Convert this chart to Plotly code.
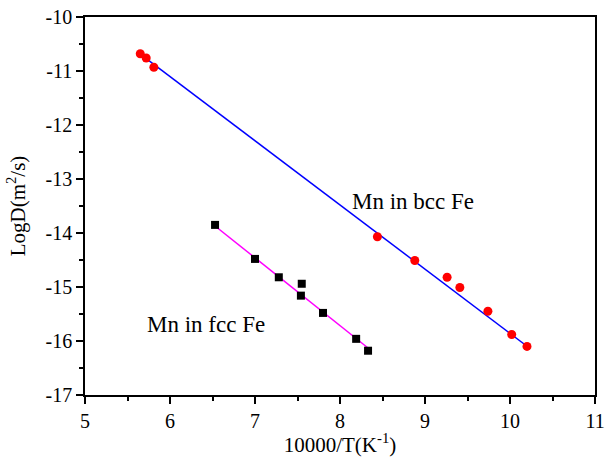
import plotly.graph_objects as go

# bcc Fe data (red circles)
bcc_x = [5.65, 5.72, 5.81, 8.44, 8.88, 9.26, 9.41, 9.74, 10.02, 10.20]
bcc_y = [-10.68, -10.76, -10.93, -14.07, -14.51, -14.82, -15.01, -15.45, -15.88, -16.10]
bcc_fit_x = [5.67, 10.22]
bcc_fit_y = [-10.71, -16.12]

# fcc Fe data (black squares)
fcc_x = [6.53, 7.00, 7.28, 7.55, 7.54, 7.80, 8.19, 8.33]
fcc_y = [-13.85, -14.48, -14.82, -14.94, -15.16, -15.48, -15.96, -16.18]
fcc_fit_x = [6.53, 8.33]
fcc_fit_y = [-13.87, -16.13]

x_ticks = [5, 6, 7, 8, 9, 10, 11]
y_ticks = [-10, -11, -12, -13, -14, -15, -16, -17]

FONT = "Times New Roman, Liberation Serif, serif"

fig = go.Figure()
fig.add_trace(go.Scatter(x=bcc_fit_x, y=bcc_fit_y, mode="lines",
                         line=dict(color="#0000FF", width=1.5), showlegend=False))
fig.add_trace(go.Scatter(x=fcc_fit_x, y=fcc_fit_y, mode="lines",
                         line=dict(color="#FF00FF", width=1.5), showlegend=False))
fig.add_trace(go.Scatter(x=bcc_x, y=bcc_y, mode="markers",
                         marker=dict(symbol="circle", size=9, color="#FF0000"),
                         showlegend=False))
fig.add_trace(go.Scatter(x=fcc_x, y=fcc_y, mode="markers",
                         marker=dict(symbol="square", size=8, color="#000000"),
                         showlegend=False))

fig.add_annotation(x=8.86, y=-13.41, text="Mn in bcc Fe", showarrow=False,
                   font=dict(family=FONT, size=23, color="black"))
fig.add_annotation(x=6.42, y=-15.70, text="Mn in fcc Fe", showarrow=False,
                   font=dict(family=FONT, size=23, color="black"))

axis_common = dict(showgrid=False, zeroline=False, showline=True, linecolor="black",
                   linewidth=1.5, mirror=True, ticks="outside", ticklen=7,
                   tickwidth=1.5, tickcolor="black", automargin=False,
                   ticklabeloverflow="allow",
                   tickfont=dict(family=FONT, size=20, color="black"))

fig.update_xaxes(range=[5, 11], tickvals=x_ticks, ticktext=[str(v) for v in x_ticks],
                 title=dict(text="10000/T(K<sup>-1</sup>)", font=dict(family=FONT, size=21, color="black"),
                            standoff=14),
                 minor=dict(dtick=0.5, tick0=5, ticks="outside", ticklen=4, tickwidth=1.5,
                            tickcolor="black"),
                 **axis_common)
fig.update_yaxes(range=[-17, -10], tickvals=y_ticks, ticktext=[str(v) for v in y_ticks],
                 title=dict(text="LogD(m<sup>2</sup>/s)", font=dict(family=FONT, size=21, color="black"),
                            standoff=14),
                 minor=dict(dtick=0.5, tick0=-17, ticks="outside", ticklen=4, tickwidth=1.5,
                            tickcolor="black"),
                 **axis_common)

fig.update_layout(width=606, height=457, margin=dict(l=85, r=11, t=17, b=62),
                  plot_bgcolor="white", paper_bgcolor="white",
                  font=dict(family=FONT, color="black"))

fig.write_html("out.html")
